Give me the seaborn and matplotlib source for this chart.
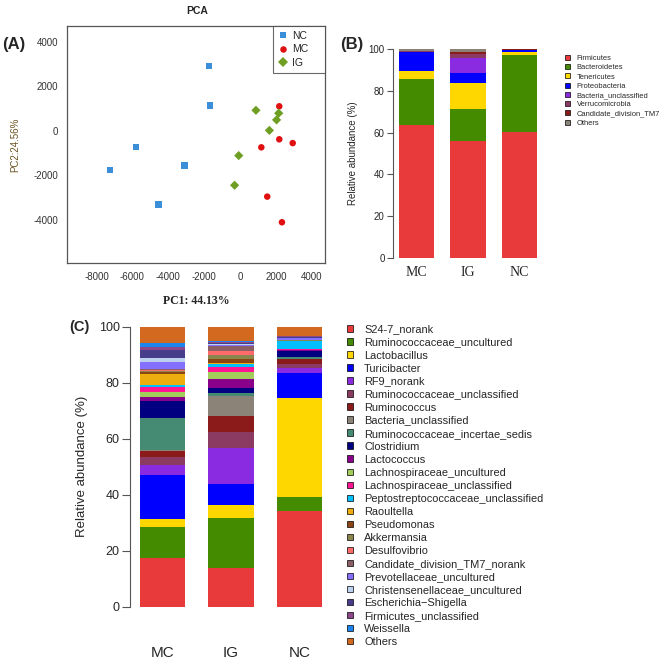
import numpy as np
import pandas as pd
import matplotlib
matplotlib.use("Agg")
import matplotlib.pyplot as plt
import seaborn as sns
from matplotlib.patches import Patch

# ---------------- data ----------------
# PCA (panel A)
pca_group = ["NC"] * 6 + ["MC"] * 6 + ["IG"] * 6
pc1 = [-1730, -1670, -5800, -7250, -3080, -4550,
       2190, 2190, 2940, 1190, 1520, 2340,
       890, 2160, 2040, 1640, -70, -300]
pc2 = [2910, 1140, -730, -1760, -1550, -3300,
       1100, -380, -550, -740, -2950, -4100,
       920, 790, 490, 20, -1110, -2440]
pca_order = ["NC", "MC", "IG"]
pca_colors = ["#3A8FD8", "#E01010", "#6E9E22"]
pca_markers = ["s", "o", "D"]
x_ticks_A = [-8000, -6000, -4000, -2000, 0, 2000, 4000]
y_ticks_A = [-4000, -2000, 0, 2000, 4000]

groups = ["MC", "IG", "NC"]

# Phylum level (panel B)
phyla = ["Firmicutes", "Bacteroidetes", "Tenericutes", "Proteobacteria",
         "Bacteria_unclassified", "Verrucomicrobia", "Candidate_division_TM7", "Others"]
phylum_MC = [63.5, 22.0, 3.8, 9.1, 0.2, 0.3, 0.3, 0.8]
phylum_IG = [56.1, 15.1, 12.6, 4.7, 7.4, 1.6, 1.2, 1.3]
phylum_NC = [60.5, 36.6, 1.6, 0.8, 0.1, 0.1, 0.1, 0.2]
phylum_colors = ["#E8393B", "#458B00", "#FFD700", "#0000FF",
                 "#8A2BE2", "#8B3A62", "#8B1A1A", "#8B8378"]

# Genus level (panel C)
genera = ["S24-7_norank", "Ruminococcaceae_uncultured", "Lactobacillus", "Turicibacter",
          "RF9_norank", "Ruminococcaceae_unclassified", "Ruminococcus", "Bacteria_unclassified",
          "Ruminococcaceae_incertae_sedis", "Clostridium", "Lactococcus",
          "Lachnospiraceae_uncultured", "Lachnospiraceae_unclassified",
          "Peptostreptococcaceae_unclassified", "Raoultella", "Pseudomonas", "Akkermansia",
          "Desulfovibrio", "Candidate_division_TM7_norank", "Prevotellaceae_uncultured",
          "Christensenellaceae_uncultured", "Escherichia\u2212Shigella",
          "Firmicutes_unclassified", "Weissella", "Others"]
genus_MC = [17.3, 11.3, 2.6, 15.8, 3.6, 2.7, 2.3, 0.3, 11.5, 6.0, 1.4, 2.0, 1.5,
            0.8, 3.9, 0.9, 0.3, 0.4, 0.3, 2.6, 1.3, 2.9, 1.2, 1.4, 5.7]
genus_IG = [14.0, 17.8, 4.4, 7.7, 12.9, 5.7, 5.6, 7.2, 0.9, 1.8, 3.2, 2.7, 1.8,
            0.9, 0.5, 1.2, 1.6, 1.5, 1.7, 0.3, 0.4, 0.3, 0.3, 0.4, 5.2]
genus_NC = [34.2, 5.0, 35.2, 9.2, 1.8, 1.2, 1.7, 0.2, 0.6, 2.2, 0.2, 0.2, 0.5,
            2.6, 0.1, 0.1, 0.1, 0.1, 0.1, 0.6, 0.2, 0.2, 0.3, 0.2, 3.2]
genus_colors = ["#E8393B", "#458B00", "#FFD700", "#0000FF", "#8A2BE2", "#8B3A62",
                "#8B1A1A", "#8B8378", "#458B74", "#000080", "#8B008B", "#A2CD5A",
                "#FF1493", "#00BFFF", "#EEAD0E", "#8B4513", "#8B864E", "#FF6A6A",
                "#8B5F65", "#8470FF", "#BCD2EE", "#483D8B", "#8B4789", "#1C86EE",
                "#D2691E"]
y_ticks_bar = [0, 20, 40, 60, 80, 100]

# ---------------- style ----------------
sns.set_style("white")
plt.rcParams["font.family"] = ["Liberation Sans", "DejaVu Sans"]
plt.rcParams["axes.unicode_minus"] = False

W, H = 669, 661
fig = plt.figure(figsize=(W / 100, H / 100), dpi=100)


def box(l, t, r, b):
    return [l / W, 1 - b / H, (r - l) / W, (b - t) / H]


# ---------------- Panel A: PCA ----------------
axA = fig.add_axes(box(66.7, 26, 325, 263.3))
df_pca = pd.DataFrame({"PC1": pc1, "PC2": pc2, "group": pca_group})
sns.scatterplot(data=df_pca, x="PC1", y="PC2", hue="group", style="group",
                hue_order=pca_order, style_order=pca_order,
                palette=dict(zip(pca_order, pca_colors)),
                markers=dict(zip(pca_order, pca_markers)),
                s=22, linewidth=0, ax=axA)
axA.set_xlim(-9660, 4740)
axA.set_ylim(-5940, 4700)
axA.set_xticks(x_ticks_A)
axA.set_yticks(y_ticks_A)
axA.tick_params(axis="both", length=0, labelsize=7, pad=6, colors="#333333")
for sp in axA.spines.values():
    sp.set_color("#555555")
    sp.set_linewidth(0.9)
axA.set_xlabel("PC1: 44.13%", family=["Liberation Serif", "DejaVu Serif"],
               fontweight="bold", fontsize=8.5)
axA.xaxis.set_label_coords(0.5, -0.16)
axA.xaxis.label.set_va("center")
axA.set_ylabel("PC2:24.56%", fontsize=7, color="#6B5420")
axA.yaxis.set_label_coords(-0.2, 0.5)
axA.yaxis.label.set_va("center")
h, l = axA.get_legend_handles_labels()
axA.legend(h, l, loc="upper right", bbox_to_anchor=(0.799, 0.81, 0.201, 0.19),
           mode="expand", borderaxespad=0, frameon=True, fancybox=False,
           edgecolor="#444444", fontsize=7.5, handletextpad=0.4, labelspacing=0.35,
           handlelength=1.0, borderpad=0.45, title=None)
axA.get_legend().get_frame().set_linewidth(0.8)
fig.text(197 / W, 1 - 11 / H, "PCA", ha="center", va="center", fontsize=7.5,
         fontweight="bold")
fig.text(2 / W, 1 - 44 / H, "(A)", ha="left", va="center", fontsize=12,
         fontweight="bold")


def stacked(ax, values, colors, width):
    data = np.array(values)  # shape (n_groups, n_cat)
    cum = np.cumsum(data, axis=1)
    for k in range(data.shape[1] - 1, -1, -1):
        d = pd.DataFrame({"group": groups, "cum": cum[:, k]})
        sns.barplot(data=d, x="group", y="cum", order=groups, color=colors[k],
                    saturation=1, width=width, linewidth=0, ax=ax)


# ---------------- Panel B: phylum ----------------
axB = fig.add_axes(box(393, 49, 540, 258))
stacked(axB, [phylum_MC, phylum_IG, phylum_NC], phylum_colors, 0.68)
axB.set_xlim(-0.456, 2.398)
axB.set_ylim(0, 100)
axB.set_yticks(y_ticks_bar)
for s in ["top", "right", "bottom"]:
    axB.spines[s].set_visible(False)
axB.spines["left"].set_color("#555555")
axB.spines["left"].set_linewidth(0.8)
axB.tick_params(axis="y", left=True, length=4, width=0.8, color="#555555",
                labelsize=7, pad=2)
axB.tick_params(axis="x", length=0, pad=6, labelsize=10)
for t in axB.get_xticklabels():
    t.set_family(["Liberation Serif", "DejaVu Serif"])
axB.set_xlabel("")
axB.set_ylabel("Relative abundance (%)", fontsize=7)
axB.yaxis.set_label_coords(-0.272, 0.5)
axB.yaxis.label.set_va("center")
handlesB = [Patch(facecolor=c, edgecolor="black", linewidth=0.5) for c in phylum_colors]
fig.legend(handlesB, phyla, loc="upper left", bbox_to_anchor=(565 / W, 1 - 55 / H),
           frameon=False, fontsize=5.4, handlelength=0.65, handleheight=0.65,
           handletextpad=0.9, labelspacing=0.28, borderpad=0, borderaxespad=0)
fig.text(340 / W, 1 - 44 / H, "(B)", ha="left", va="center", fontsize=12,
         fontweight="bold")

# ---------------- Panel C: genus ----------------
axC = fig.add_axes(box(130, 326.7, 335, 606.7))
stacked(axC, [genus_MC, genus_IG, genus_NC], genus_colors, 0.657)
axC.set_xlim(-0.474, 2.518)
axC.set_ylim(0, 100)
axC.set_yticks(y_ticks_bar)
for s in ["top", "right", "bottom"]:
    axC.spines[s].set_visible(False)
axC.spines["left"].set_color("#555555")
axC.spines["left"].set_linewidth(0.8)
axC.tick_params(axis="y", left=True, length=5.5, width=0.8, color="#555555",
                labelsize=9, pad=2)
axC.tick_params(axis="x", length=0, pad=28, labelsize=11)
axC.set_xlabel("")
axC.set_ylabel("Relative abundance (%)", fontsize=9.5)
axC.yaxis.set_label_coords((81.7 - 130) / 205, 0.5)
axC.yaxis.label.set_va("center")
handlesC = [Patch(facecolor=c, edgecolor="black", linewidth=0.5) for c in genus_colors]
fig.legend(handlesC, genera, loc="upper left", bbox_to_anchor=(347 / W, 1 - 324.5 / H),
           frameon=False, fontsize=7.9, handlelength=0.55, handleheight=0.55,
           handletextpad=1.0, labelspacing=0.275, borderpad=0, borderaxespad=0)
fig.text(69 / W, 1 - 327 / H, "(C)", ha="left", va="center", fontsize=10.5,
         fontweight="bold")

fig.savefig("out.png", dpi=100)
